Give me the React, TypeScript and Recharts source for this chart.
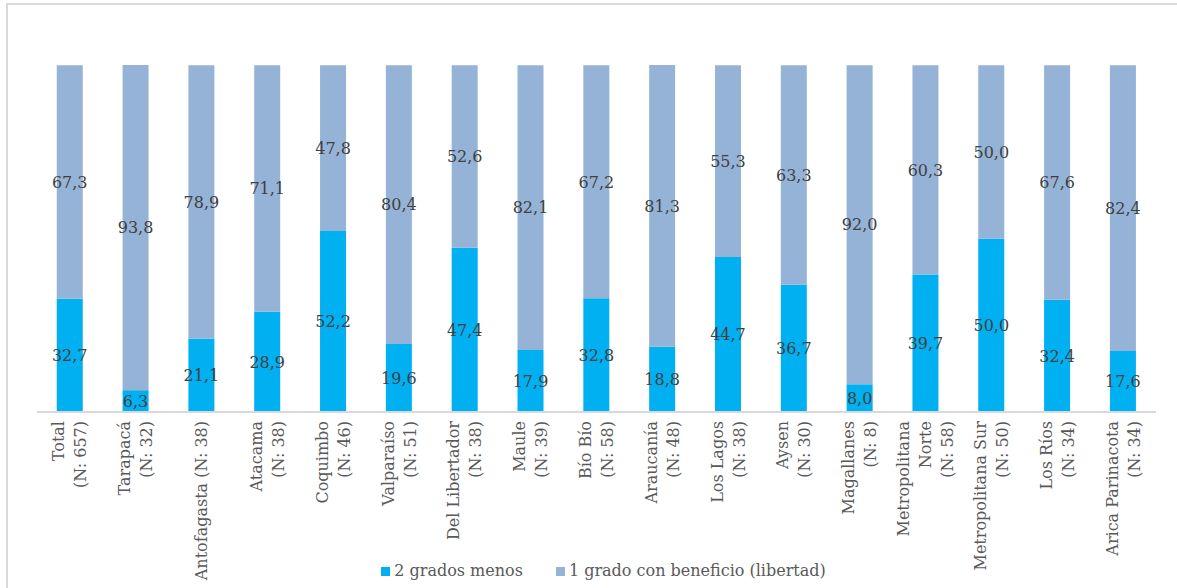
import React from 'react';
import { BarChart, Bar, XAxis, YAxis, Legend, LabelList } from 'recharts';

const regions = [
  'Total\n(N: 657)',
  'Tarapacá\n(N: 32)',
  'Antofagasta (N: 38)',
  'Atacama\n(N: 38)',
  'Coquimbo\n(N: 46)',
  'Valparaíso\n(N: 51)',
  'Del Libertador\n(N: 38)',
  'Maule\n(N: 39)',
  'Bío Bío\n(N: 58)',
  'Araucanía\n(N: 48)',
  'Los Lagos\n(N: 38)',
  'Aysen\n(N: 30)',
  'Magallanes\n(N: 8)',
  'Metropolitana\nNorte\n(N: 58)',
  'Metropolitana Sur\n(N: 50)',
  'Los Ríos\n(N: 34)',
  'Arica Parinacota\n(N: 34)',
];

const dosGradosMenos = [32.7, 6.3, 21.1, 28.9, 52.2, 19.6, 47.4, 17.9, 32.8, 18.8, 44.7, 36.7, 8.0, 39.7, 50.0, 32.4, 17.6];
const unGradoBeneficio = [67.3, 93.8, 78.9, 71.1, 47.8, 80.4, 52.6, 82.1, 67.2, 81.3, 55.3, 63.3, 92.0, 60.3, 50.0, 67.6, 82.4];

const seriesNames = ['2 grados menos', '1 grado con beneficio (libertad)'];
const seriesColors = ['#00B0F0', '#95B3D7'];

const FONT = '"DejaVu Serif", serif';

const data = regions.map((name, i) => ({
  name,
  menos: dosGradosMenos[i],
  beneficio: unGradoBeneficio[i],
}));

const fmt = (v: any) => Number(v).toFixed(1).replace('.', ',');

const CategoryTick = (props: any) => {
  const { x, y, payload } = props;
  const lines = String(payload.value).split('\n');
  const n = lines.length;
  return (
    <g transform={`translate(${x},${y + 1})`}>
      <text transform="rotate(-90)" textAnchor="end" fill="#595959" fontSize={16} fontFamily={FONT}>
        {lines.map((line, i) => (
          <tspan key={i} x={0} y={(i - (n - 1) / 2) * 22 + 5.5}>
            {line}
          </tspan>
        ))}
      </text>
    </g>
  );
};

const LegendContent = () => (
  <div
    style={{
      display: 'flex',
      justifyContent: 'center',
      gap: 33,
      paddingLeft: 14,
      fontFamily: FONT,
      fontSize: 16,
      color: '#595959',
      lineHeight: '22px',
    }}
  >
    {seriesNames.map((s, i) => (
      <div key={s} style={{ display: 'flex', alignItems: 'center' }}>
        <span style={{ width: 9, height: 9, background: seriesColors[i], marginRight: 4, display: 'inline-block' }} />
        <span>{s}</span>
      </div>
    ))}
  </div>
);

export default function App() {
  return (
    <div style={{ position: 'fixed', left: 0, top: 0, width: 1177, height: 588, overflow: 'hidden', background: '#fff' }}>
      <div
        style={{
          position: 'absolute',
          left: 6,
          top: 3,
          width: 1300,
          height: 700,
          borderLeft: '2px solid #d9d9d9',
          borderTop: '2px solid #d9d9d9',
        }}
      />
      <div style={{ position: 'absolute', left: 0, top: 0 }}>
        <BarChart
          width={1177}
          height={588}
          data={data}
          margin={{ top: 65, right: 21, left: 37, bottom: 6 }}
          barCategoryGap="30%"
        >
          <XAxis
            dataKey="name"
            interval={0}
            tick={<CategoryTick />}
            tickLine={false}
            axisLine={{ stroke: '#d9d9d9', strokeWidth: 2 }}
            height={148}
          />
          <YAxis hide domain={[0, 100]} />
          <Legend verticalAlign="bottom" content={<LegendContent />} />
          <Bar dataKey="menos" stackId="a" fill={seriesColors[0]} isAnimationActive={false}>
            <LabelList dataKey="menos" position="center" formatter={fmt} fill="#404040" fontSize={16} fontFamily={FONT} />
          </Bar>
          <Bar dataKey="beneficio" stackId="a" fill={seriesColors[1]} isAnimationActive={false}>
            <LabelList dataKey="beneficio" position="center" formatter={fmt} fill="#404040" fontSize={16} fontFamily={FONT} />
          </Bar>
        </BarChart>
      </div>
    </div>
  );
}
